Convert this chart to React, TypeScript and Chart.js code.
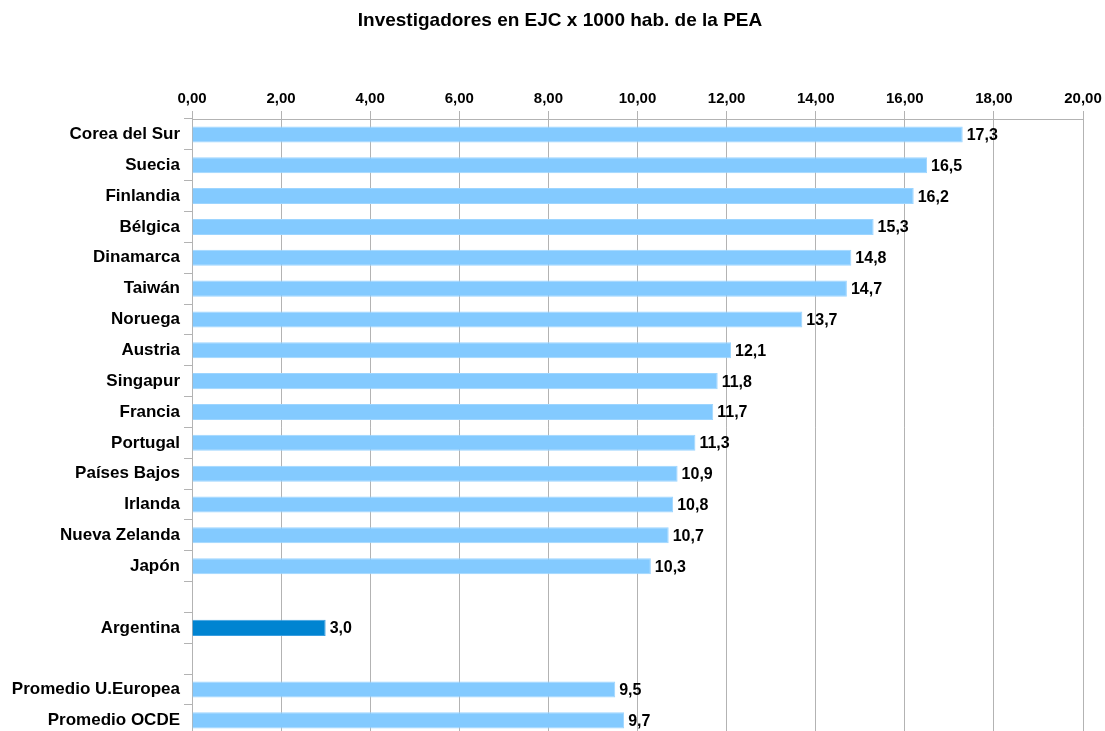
import React, { useEffect, useRef } from "react";
import { Chart, registerables } from "chart.js";

Chart.register(...registerables);

const TITLE = "Investigadores en EJC x 1000 hab. de la PEA";
const categories = [
  "Corea del Sur", "Suecia", "Finlandia", "Bélgica", "Dinamarca", "Taiwán", "Noruega",
  "Austria", "Singapur", "Francia", "Portugal", "Países Bajos", "Irlanda", "Nueva Zelanda",
  "Japón", "", "Argentina", "", "Promedio U.Europea", "Promedio OCDE",
];
const values: (number | null)[] = [
  17.3, 16.5, 16.2, 15.3, 14.8, 14.7, 13.7, 12.1, 11.8, 11.7, 11.3, 10.9, 10.8, 10.7, 10.3,
  null, 3.0, null, 9.5, 9.7,
];
const highlight = "Argentina";
const xMin = 0;
const xMax = 20;
const xStep = 2;

const FONT = "'Liberation Sans', Arial, sans-serif";

const labelsPlugin = {
  id: "valueLabels",
  afterDatasetsDraw(chart: any) {
    const ctx = chart.ctx;
    const meta = chart.getDatasetMeta(0);
    ctx.save();
    ctx.font = `bold 16px ${FONT}`;
    ctx.fillStyle = "#000";
    ctx.textAlign = "left";
    ctx.textBaseline = "middle";
    meta.data.forEach((el: any, i: number) => {
      const v = values[i];
      if (v == null) return;
      ctx.fillText(v.toFixed(1).replace(".", ","), el.x + 4, el.y + 1);
    });
    ctx.restore();
  },
};

const titlePlugin = {
  id: "customTitle",
  afterDraw(chart: any) {
    const ctx = chart.ctx;
    ctx.save();
    ctx.font = `bold 19px ${FONT}`;
    ctx.fillStyle = "#000";
    ctx.textAlign = "center";
    ctx.textBaseline = "middle";
    ctx.fillText(TITLE, 560, 21);
    ctx.restore();
  },
};

export default function App() {
  const ref = useRef<HTMLCanvasElement>(null);
  useEffect(() => {
    if (!ref.current) return;
    const chart = new Chart(ref.current, {
      type: "bar",
      data: {
        labels: categories,
        datasets: [
          {
            data: values as any,
            backgroundColor: categories.map((c) => (c === highlight ? "#0084d1" : "#83caff")),
            borderColor: categories.map((c) => (c === highlight ? "#3a9ee0" : "#9dd5ff")),
            borderWidth: 1,
            barPercentage: 0.52,
            categoryPercentage: 1,
          },
        ],
      },
      options: {
        indexAxis: "y",
        responsive: false,
        animation: false,
        layout: { padding: { left: 0, right: 22, top: 0, bottom: 5 } },
        plugins: { legend: { display: false }, tooltip: { enabled: false }, title: { display: false } },
        scales: {
          x: {
            position: "top",
            min: xMin,
            max: xMax,
            ticks: {
              stepSize: xStep,
              color: "#000",
              font: { family: FONT, size: 15, weight: "bold" },
              padding: 3,
              callback: (v: any) => Number(v).toFixed(2).replace(".", ","),
            },
            grid: { color: "#b3b3b3", tickLength: 8, drawTicks: true },
            border: { color: "#b3b3b3" },
            afterFit: (s: any) => {
              s.height = 119;
            },
          },
          y: {
            ticks: {
              color: "#000",
              font: { family: FONT, size: 17, weight: "bold" },
              padding: 4,
              autoSkip: false,
            },
            grid: { drawOnChartArea: false, color: "#b3b3b3", tickLength: 8, offset: true },
            border: { color: "#b3b3b3" },
            afterFit: (s: any) => {
              s.width = 192;
            },
          },
        },
      },
      plugins: [labelsPlugin, titlePlugin],
    });
    return () => chart.destroy();
  }, []);
  return (
    <div style={{ position: "fixed", left: 0, top: 0, width: 1105, height: 731, overflow: "hidden", background: "#fff" }}>
      <canvas ref={ref} width={1105} height={750} style={{ display: "block" }} />
    </div>
  );
}
